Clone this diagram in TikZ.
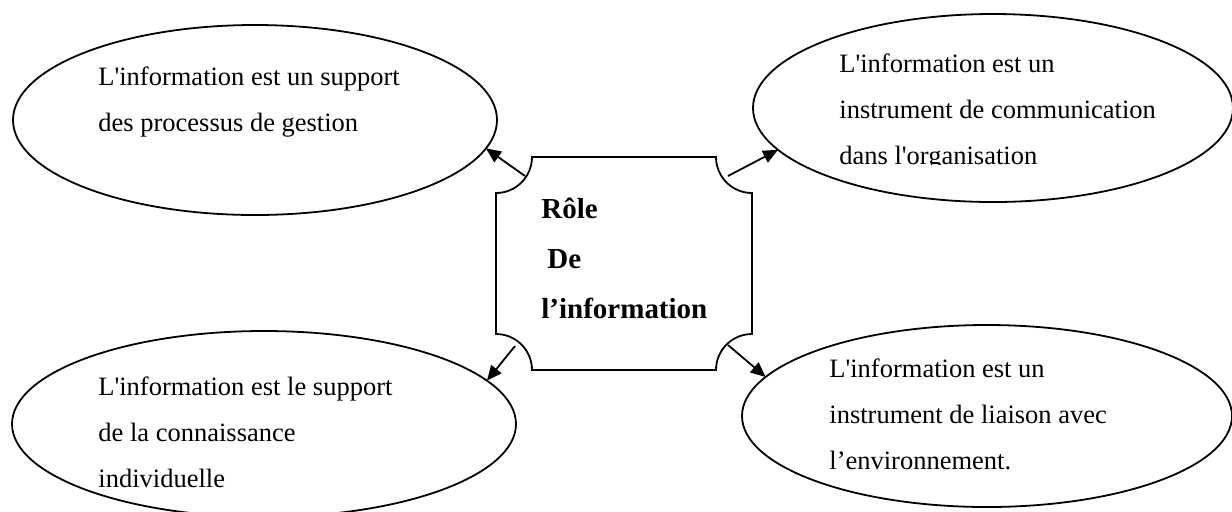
\documentclass[tikz,border=0pt]{standalone}
\usepackage{fontspec}
\setmainfont{Liberation Serif}[Ligatures=TeXOff]
\usetikzlibrary{arrows.meta,shapes.geometric}

\begin{document}
\begin{tikzpicture}[x=0.5pt,y=-0.5pt,
  bubble/.style={draw, ellipse, line width=0.9pt, inner sep=0pt, outer sep=0pt},
  note/.style={anchor=base west, inner sep=0pt, font=\fontsize{13.25pt}{23pt}\selectfont},
  title/.style={anchor=base west, inner sep=0pt, font=\bfseries\fontsize{14.5pt}{25pt}\selectfont},
  plaque/.style={draw, line width=0.9pt},
  link/.style={-{Triangle[length=7.5pt,width=6.5pt]}, line width=0.9pt},
]
\fill[white] (0,0) rectangle (1232,511);
\useasboundingbox (0,0) rectangle (1232,511);
\clip (0,0) rectangle (1232,511);

% the four ellipses
\node[bubble, minimum width=242pt, minimum height=95pt] (tl) at (255,120) {};
\node[bubble, minimum width=240pt, minimum height=94pt] (tr) at (993,108) {};
\node[bubble, minimum width=252pt, minimum height=93pt] (bl) at (264,424) {};
\node[bubble, minimum width=245pt, minimum height=91pt] (br) at (987,416) {};

% central plaque with concave corners
\draw[plaque] (532,157) -- (716,157)
  .. controls (716,176.9) and (732.1,193) .. (752,193)
  -- (752,334)
  .. controls (732.1,334) and (716,350.1) .. (716,370)
  -- (532,370)
  .. controls (532,350.1) and (515.9,334) .. (496,334)
  -- (496,193)
  .. controls (515.9,193) and (532,176.9) .. (532,157) -- cycle;

\node[title] (role) at (541,218)
  {\begin{tabular}[t]{@{}l@{}}Rôle\\\hspace*{3pt}De\\l’information\end{tabular}};

% texts of the ellipses
\node[note] (tltext) at (98,85)
  {\begin{tabular}[t]{@{}l@{}}L'information est un support\\des processus de gestion\end{tabular}};
\begin{scope}
  \clip (700,0) rectangle (1232,164);
  \node[note] (trtext) at (839,72)
    {\begin{tabular}[t]{@{}l@{}}L'information est un\\instrument de communication\\dans l'organisation\end{tabular}};
\end{scope}
\node[note] (bltext) at (98,395)
  {\begin{tabular}[t]{@{}l@{}}L'information est le support\\de la connaissance\\individuelle\end{tabular}};
\node[note] (brtext) at (829,377)
  {\begin{tabular}[t]{@{}l@{}}L'information est un\\instrument de liaison avec\\l’environnement.\end{tabular}};

% arrow origins on the plaque corners
\coordinate (s1) at (525,176);
\coordinate (s2) at (728,176);
\coordinate (s3) at (515,346);
\coordinate (s4) at (728,345);

\draw[link] (s1) -- (tl.-7.7);
\draw[link] (s2) -- (tr.191.5);
\draw[link] (s3) -- (bl.11.3);
\draw[link] (s4) -- (br.170.9);
\end{tikzpicture}
\end{document}
